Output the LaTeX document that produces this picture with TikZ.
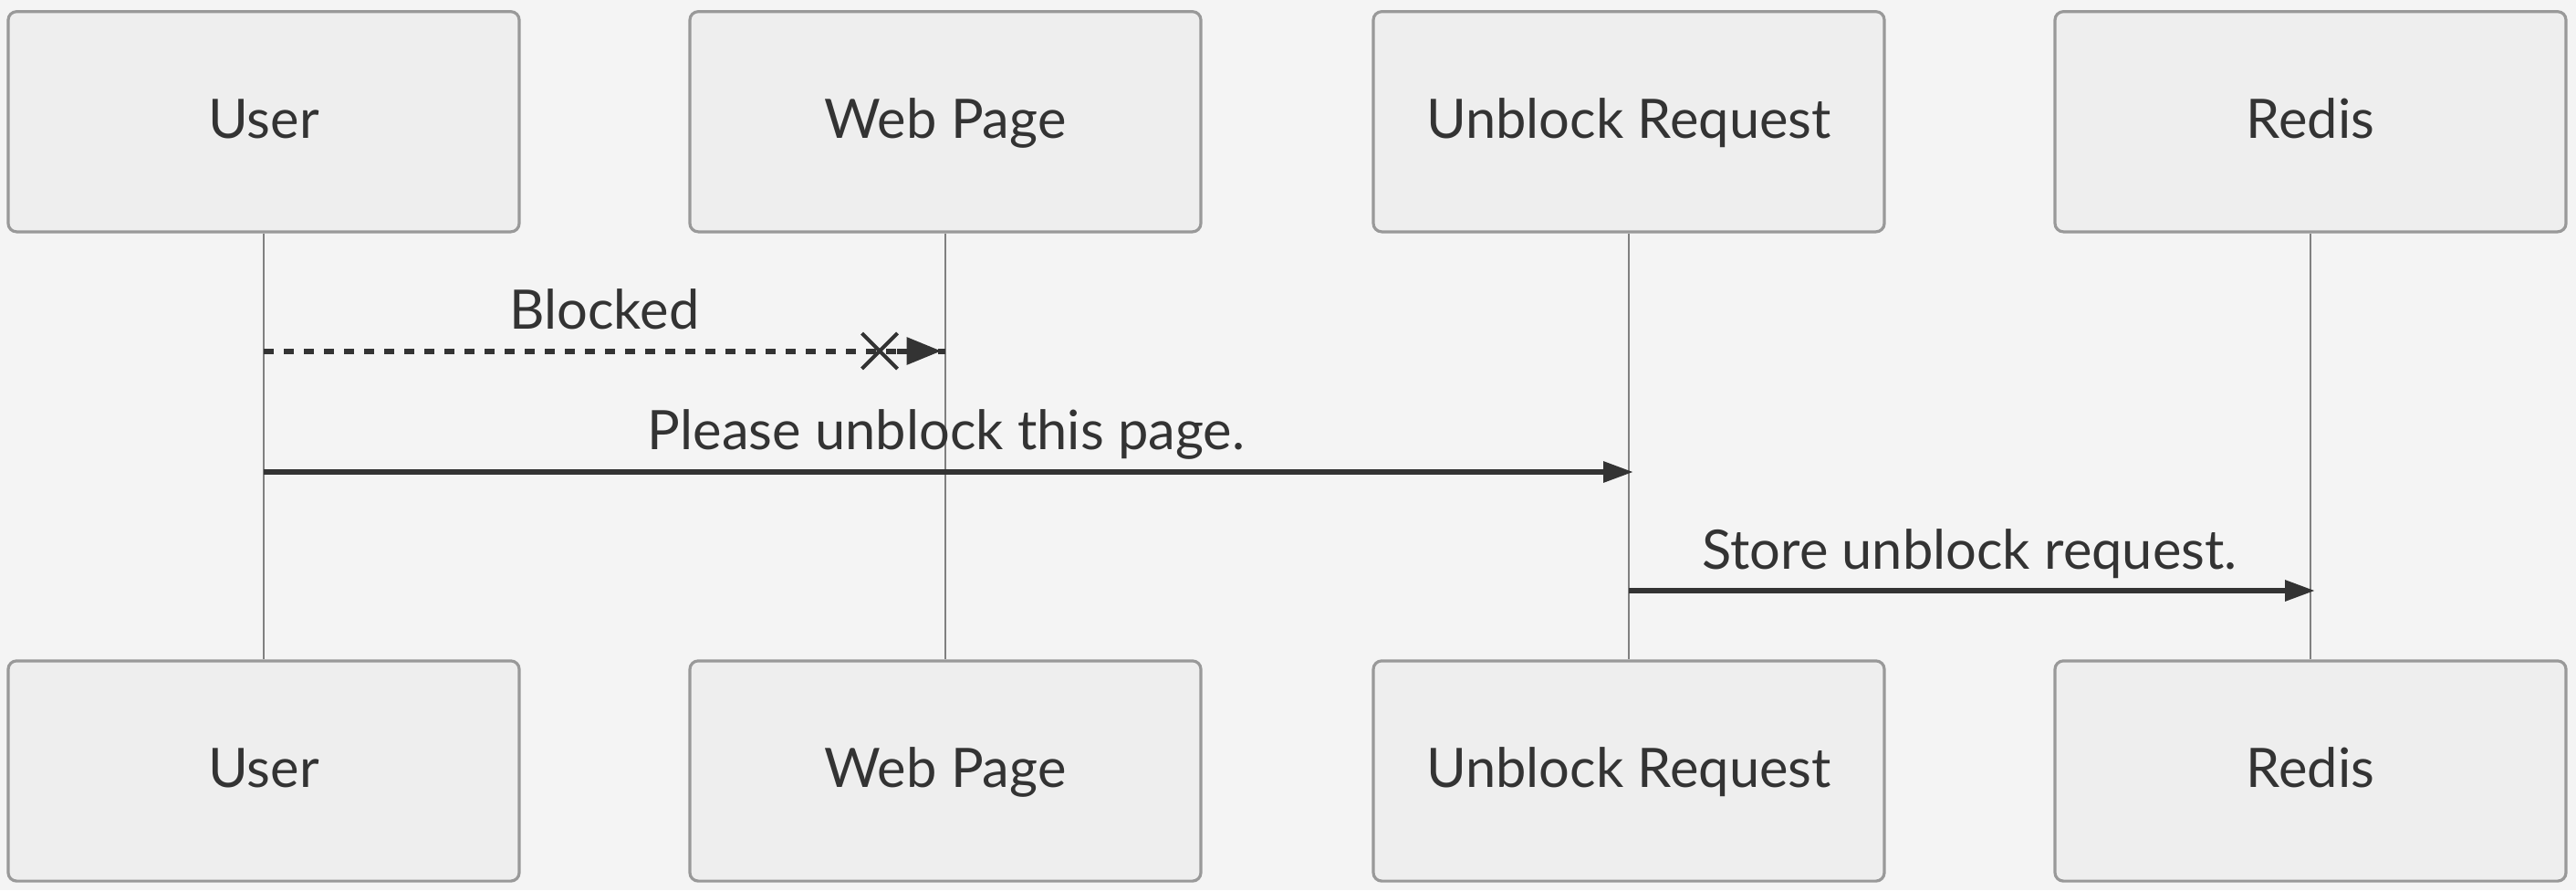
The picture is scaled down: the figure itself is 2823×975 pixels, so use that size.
\documentclass[tikz,border=0pt]{standalone}
\usepackage{fontspec}
\setmainfont{Lato}
\usetikzlibrary{arrows.meta,shapes.misc,calc}
\definecolor{bg}{HTML}{F4F4F4}
\definecolor{boxfill}{HTML}{EEEEEE}
\definecolor{boxline}{HTML}{999999}
\definecolor{ink}{HTML}{333333}
\definecolor{life}{HTML}{808080}
\begin{document}
\begin{tikzpicture}[x=0.25pt,y=-0.25pt,
  actor/.style={draw=boxline, fill=boxfill, line width=0.8pt, rounded corners=2.3pt,
    minimum width=140pt, minimum height=60.3pt, inner sep=0pt,
    font=\fontsize{14.9pt}{18pt}\selectfont, text=ink, text height=9.2pt, text depth=0pt},
  lifeline/.style={draw=life, line width=0.5pt},
  msg/.style={draw=ink, line width=1.5pt, -{Triangle[length=8.25pt,width=5.5pt]}, shorten >=-1.25pt},
  dotmsg/.style={draw=ink, line width=1.5pt, dash pattern=on 2.75pt off 2.75pt},
  bigtip/.style={draw=ink, line width=1.5pt, -{Triangle[length=9.5pt,width=7.25pt]}, shorten >=1.1pt},
  msglabel/.style={font=\fontsize{14.9pt}{18pt}\selectfont, text=ink, anchor=base, inner sep=0pt},
  crossmark/.style={cross out, draw=ink, line width=1pt, minimum size=8.75pt, inner sep=0pt}
]
\fill[bg] (0,0) rectangle (2823,975);
\useasboundingbox (0,0) rectangle (2823,975);

% top actors
\node[actor] (uT) at (289,133.3) {User};
\node[actor] (wT) at (1036,133.3) {Web Page};
\node[actor] (rT) at (1785,133.3) {Unblock Request};
\node[actor] (dT) at (2532,133.3) {Redis};
% bottom actors
\node[actor] (uB) at (289,844.5) {User};
\node[actor] (wB) at (1036,844.5) {Web Page};
\node[actor] (rB) at (1785,844.5) {Unblock Request};
\node[actor] (dB) at (2532,844.5) {Redis};

% lifelines
\draw[lifeline] (uT.south) -- (uB.north);
\draw[lifeline] (wT.south) -- (wB.north);
\draw[lifeline] (rT.south) -- (rB.north);
\draw[lifeline] (dT.south) -- (dB.north);

% message rows
\coordinate (m1) at (0,384.5);
\coordinate (m2) at (0,517);
\coordinate (m3) at (0,647);

\coordinate (m1s) at (uT.south |- m1);
\coordinate (m1e) at (wT.south |- m1);
\coordinate (m2s) at (uT.south |- m2);
\coordinate (m2e) at (rT.south |- m2);
\coordinate (m3s) at (rT.south |- m3);
\coordinate (m3e) at (dT.south |- m3);

% blocked (dotted, crossed)
\draw[dotmsg] (m1s) -- ($(m1e)+(-44,0)$);
\draw[bigtip] ($(m1e)+(-53,0)$) -- (m1e);
\draw[draw=ink, line width=1.5pt] ($(m1e)+(-8,0)$) -- (m1e);
\node[crossmark] (xm) at (964,384.5) {};
\node[msglabel] (l1) at ($(m1s)!0.5!(m1e)+(0,-24)$) {Blocked};

\draw[msg] (m2s) -- (m2e);
\node[msglabel] (l2) at ($(m2s)!0.5!(m2e)+(0,-25)$) {Please unblock this page.};

\draw[msg] (m3s) -- (m3e);
\node[msglabel] (l3) at ($(m3s)!0.5!(m3e)+(0,-24)$) {Store unblock request.};
\end{tikzpicture}
\end{document}
